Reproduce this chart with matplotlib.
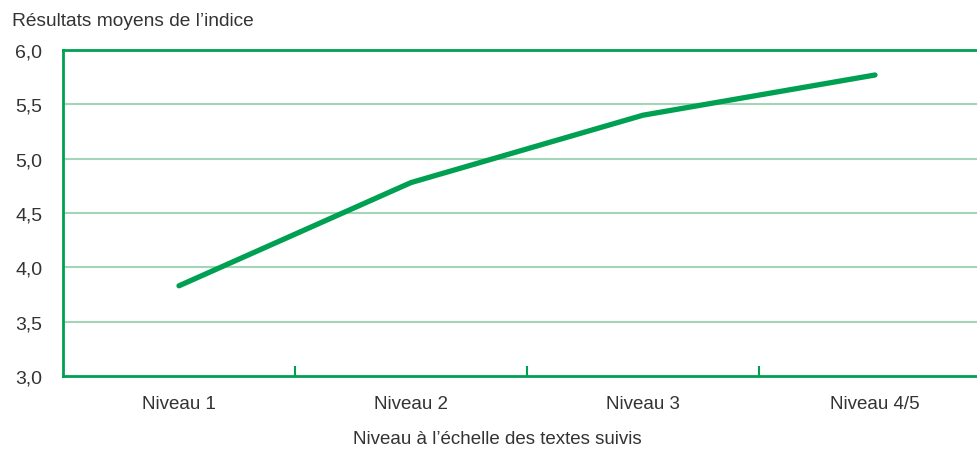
import matplotlib
matplotlib.use('Agg')
import matplotlib.pyplot as plt
import numpy as np

plt.rcParams['font.family'] = ['Liberation Sans', 'DejaVu Sans']

niveaux = ['Niveau 1', 'Niveau 2', 'Niveau 3', 'Niveau 4/5']
indice = [3.83, 4.78, 5.40, 5.77]
yticks = [3.0, 3.5, 4.0, 4.5, 5.0, 5.5, 6.0]
ytick_labels = ['3,0', '3,5', '4,0', '4,5', '5,0', '5,5', '6,0']

green = '#00a052'
grid_green = '#a3d6b8'
txt = '#333333'

W, H = 978, 452
fig = plt.figure(figsize=(W/100, H/100), dpi=100)
ax = fig.add_axes([63/W, (H-377)/H, (W-63)/W, (377-51)/H])

x = np.arange(len(niveaux))
ax.plot(x, indice, color=green, lw=3.8, solid_capstyle='round', zorder=3)

ax.set_ylim(3.0, 6.0)
ax.set_xlim(-0.5, -0.5 + (W-63)/232.0)
ax.set_yticks(yticks)
ax.set_yticklabels(ytick_labels)
for v in yticks[1:-1]:
    ax.axhline(v, color=grid_green, lw=1.5, zorder=1)

ax.set_xticks(x)
ax.set_xticklabels(niveaux)
ax.set_xticks([0.5, 1.5, 2.5], minor=True)
ax.tick_params(axis='x', which='major', length=0, pad=14, labelsize=13.5, labelcolor=txt)
ax.tick_params(axis='x', which='minor', direction='in', length=7.5, width=1.5, color=green)
ax.tick_params(axis='y', length=0, pad=15, labelsize=14, labelcolor=txt)

for side in ['left', 'bottom', 'top']:
    ax.spines[side].set_color(green)
    ax.spines[side].set_linewidth(2)
ax.spines['right'].set_visible(False)

fig.text(12/W, 1 - 22/H, 'Résultats moyens de l\u2019indice', fontsize=13.8, color=txt,
         ha='left', va='center')
fig.text(497/W, 1 - 440/H, 'Niveau à l\u2019échelle des textes suivis', fontsize=13.5,
         color=txt, ha='center', va='center')

fig.savefig('out.png', dpi=100)
